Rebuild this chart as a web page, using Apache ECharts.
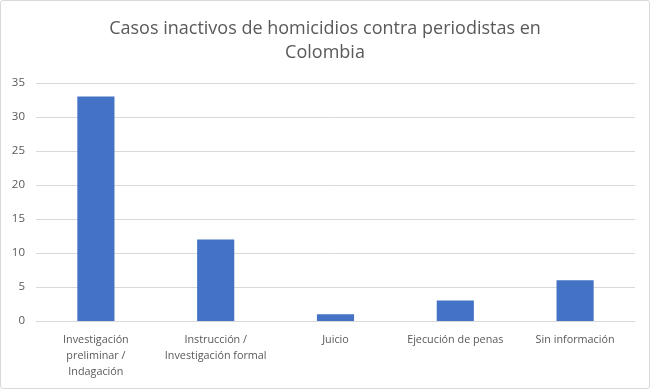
<!DOCTYPE html>
<html><head><meta charset="utf-8">
<script src="https://cdn.jsdelivr.net/npm/echarts@6/dist/echarts.min.js"></script>
<style>html,body{margin:0;padding:0;background:#fff}#c{width:650px;height:389px;box-sizing:border-box;border:1px solid #d9d9d9;border-radius:3px}</style>
</head><body><div id="c"></div>
<script>
const titleText = "Casos inactivos de homicidios contra periodistas en\nColombia";
const categories = ["Investigación\npreliminar /\nIndagación", "Instrucción /\nInvestigación formal", "Juicio", "Ejecución de penas", "Sin información"];
const values = [33, 12, 1, 3, 6];
const yTicks = {min: 0, max: 35, interval: 5};

const chart = echarts.init(document.getElementById('c'), null, {renderer: 'canvas'});
chart.setOption({
  animation: false,
  textStyle: {fontFamily: "Open Sans"},
  title: {
    text: titleText, left: 'center', top: 11,
    textStyle: {fontFamily: "Open Sans", fontSize: 18, fontWeight: 'normal', color: '#595959', lineHeight: 24}
  },
  grid: {left: 35, right: 14, top: 82, bottom: 67},
  xAxis: {
    type: 'category', data: categories,
    axisLine: {lineStyle: {color: '#d9d9d9'}},
    axisTick: {show: false},
    axisLabel: {color: '#595959', fontSize: 10.8, lineHeight: 16, margin: 11, interval: 0}
  },
  yAxis: {
    type: 'value', min: yTicks.min, max: yTicks.max, interval: yTicks.interval,
    axisLine: {show: false}, axisTick: {show: false},
    splitLine: {lineStyle: {color: '#d9d9d9'}},
    axisLabel: {color: '#595959', fontSize: 11.5, margin: 11}
  },
  series: [{
    type: 'bar', data: values, barWidth: '31%',
    itemStyle: {color: '#4472C4'}
  }]
});
</script></body></html>
